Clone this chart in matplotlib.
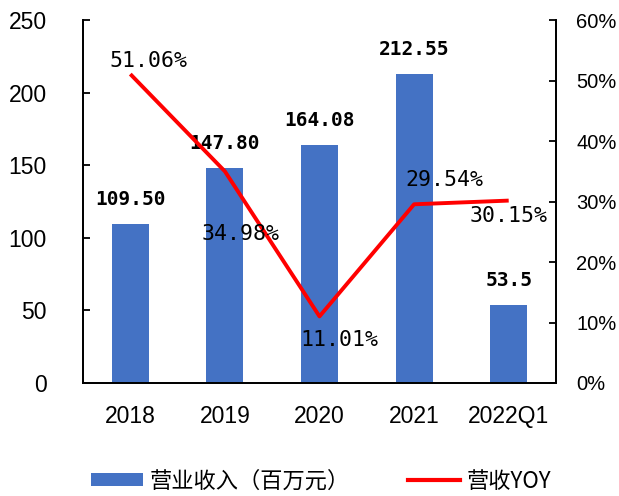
import matplotlib
matplotlib.use("Agg")
import matplotlib.pyplot as plt
from matplotlib.ticker import FuncFormatter, MultipleLocator
from matplotlib.patches import Patch
from matplotlib.lines import Line2D

categories = ["2018", "2019", "2020", "2021", "2022Q1"]
revenue = [109.50, 147.80, 164.08, 212.55, 53.5]
revenue_labels = ["109.50", "147.80", "164.08", "212.55", "53.5"]
yoy = [51.06, 34.98, 11.01, 29.54, 30.15]
yoy_labels = ["51.06%", "34.98%", "11.01%", "29.54%", "30.15%"]
legend_labels = ["营业收入（百万元）", "营收YOY"]

bar_color = "#4472C4"
line_color = "#FF0000"

fig = plt.figure(figsize=(6.19, 4.96), dpi=100)
ax = fig.add_axes([83/619, 1-383/496, (556-83)/619, (383-20)/496])
ax2 = ax.twinx()

x = list(range(len(categories)))
ax.bar(x, revenue, width=0.39, color=bar_color, zorder=2)
ax.set_xlim(-0.5, len(categories)-0.5)
ax.set_ylim(0, 250)
ax.yaxis.set_major_locator(MultipleLocator(50))

ax2.plot(x, yoy, color=line_color, lw=2.8, zorder=3, solid_capstyle='butt')
ax2.set_ylim(0, 60)
ax2.yaxis.set_major_locator(MultipleLocator(10))
ax2.yaxis.set_major_formatter(FuncFormatter(lambda v, p: f"{v:.0f}%"))

tick_font = dict(family="Liberation Sans", size=16.5)
ax.set_xticks(x)
ax.set_xticklabels(categories, **tick_font)
for lab in ax.get_yticklabels():
    lab.set_fontfamily("Liberation Sans"); lab.set_fontsize(16.5)
for lab in ax2.get_yticklabels():
    lab.set_fontfamily("Liberation Sans"); lab.set_fontsize(14.5)

ax.tick_params(axis='x', length=0, pad=16)
ax.tick_params(axis='y', direction='in', length=5, width=1.3, pad=26)
ax2.tick_params(axis='y', direction='in', length=5, width=1.3, pad=14.5)

for a in (ax, ax2):
    a.spines['top'].set_visible(False)
    for s in ('left', 'right', 'bottom'):
        a.spines[s].set_linewidth(1.3)
        a.spines[s].set_color('black')

# bar value labels
for xi, v, t in zip(x, revenue, revenue_labels):
    ax.annotate(t, (xi, v), xytext=(0, 19), textcoords='offset pixels',
                ha='center', va='baseline', family="DejaVu Sans Mono",
                fontweight='bold', fontsize=14, zorder=5)

# yoy labels
offsets = [(18, 7), (16, -69), (20, -30), (30, 18), (0, -21)]
for xi, v, t, off in zip(x, yoy, yoy_labels, offsets):
    ax2.annotate(t, (xi, v), xytext=off, textcoords='offset pixels',
                 ha='center', va='baseline', family="DejaVu Sans Mono",
                 fontsize=15.5, zorder=5)

handles = [Patch(facecolor=bar_color, edgecolor='none'),
           Line2D([0], [0], color=line_color, lw=3)]
fig.legend(handles, legend_labels, loc='center left',
           bbox_to_anchor=(91/619, 1-481/496), ncol=2, frameon=False,
           prop=dict(family=["Noto Sans CJK SC", "DejaVu Sans"], size=16),
           handlelength=2.35, handleheight=0.5, handletextpad=0.3,
           columnspacing=2.6, borderpad=0, borderaxespad=0)

fig.savefig("out.png", dpi=100)
